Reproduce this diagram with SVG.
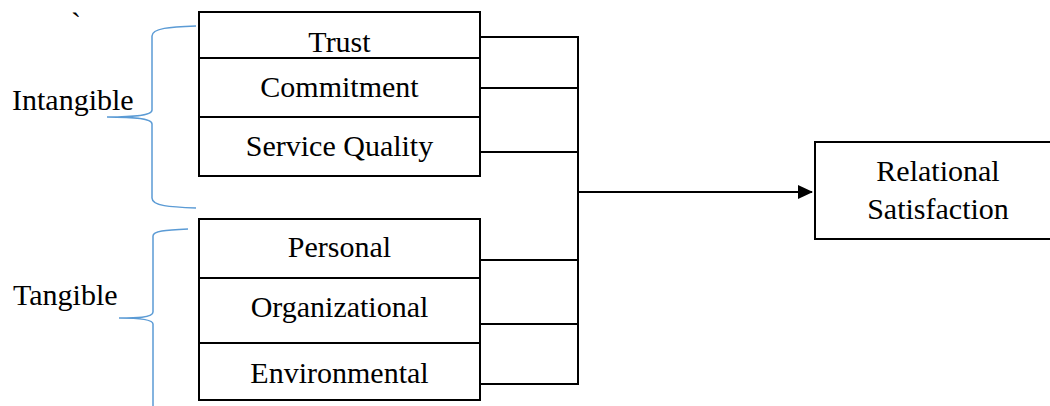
<svg xmlns="http://www.w3.org/2000/svg" width="1050" height="406" viewBox="0 0 1050 406">
  <style>
    .box { fill: #fff; stroke: #000; stroke-width: 2; }
    .lbl { font-family: "Liberation Serif", "Times New Roman", serif; font-size: 30px; fill: #000; }
    .mid { text-anchor: middle; }
    .wire { fill: none; stroke: #000; stroke-width: 2; }
    .brace { fill: none; stroke: #5b9bd5; stroke-width: 1.5; }
  </style>
  <defs>
    <marker id="arrow" markerWidth="15" markerHeight="14" refX="14" refY="7" orient="auto" markerUnits="userSpaceOnUse">
      <path d="M0,0 L15,7 L0,14 Z" fill="#000"/>
    </marker>
  </defs>
  <rect width="1050" height="406" fill="#fff"/>

  <text class="lbl" x="71" y="33">`</text>

  <!-- braces -->
  <path class="brace" d="M196,26 C170,27 152,28 152,36 L152,110 C152,116 130,117 107,117 C130,117 152,118 152,124 L152,198 C152,206 170,207 196,208"/>
  <path class="brace" d="M188,229 C165,230 153,231 153,236 L153,312 C153,318 135,318 119,318 C135,318 153,319 153,324 L153,406"/>
  <text class="lbl" x="12" y="110">Intangible</text>
  <text class="lbl" x="13" y="305">Tangible</text>

  <!-- connectors -->
  <g id="connectors">
    <path class="wire" d="M480,37 H578 V384 H480"/>
    <path class="wire" d="M480,88 H578"/>
    <path class="wire" d="M480,152 H578"/>
    <path class="wire" d="M480,260 H578"/>
    <path class="wire" d="M480,324 H578"/>
    <path class="wire" d="M578,192 H812" marker-end="url(#arrow)"/>
  </g>

  <g id="trust">
    <rect class="box" x="199" y="12" width="281" height="46"/>
    <text class="lbl mid" x="339.5" y="52">Trust</text>
  </g>
  <g id="commitment">
    <rect class="box" x="199" y="58" width="281" height="59"/>
    <text class="lbl mid" x="339.5" y="97">Commitment</text>
  </g>
  <g id="service-quality">
    <rect class="box" x="199" y="117" width="281" height="59"/>
    <text class="lbl mid" x="339.5" y="156">Service Quality</text>
  </g>
  <g id="personal">
    <rect class="box" x="199" y="219" width="281" height="59"/>
    <text class="lbl mid" x="339.5" y="257">Personal</text>
  </g>
  <g id="organizational">
    <rect class="box" x="199" y="278" width="281" height="65"/>
    <text class="lbl mid" x="339.5" y="317">Organizational</text>
  </g>
  <g id="environmental">
    <rect class="box" x="199" y="343" width="281" height="57"/>
    <text class="lbl mid" x="339.5" y="383">Environmental</text>
  </g>
  <g id="relational-satisfaction">
    <rect class="box" x="815" y="142" width="240" height="97"/>
    <text class="lbl mid" x="938" y="181">Relational</text>
    <text class="lbl mid" x="938" y="219">Satisfaction</text>
  </g>
</svg>
